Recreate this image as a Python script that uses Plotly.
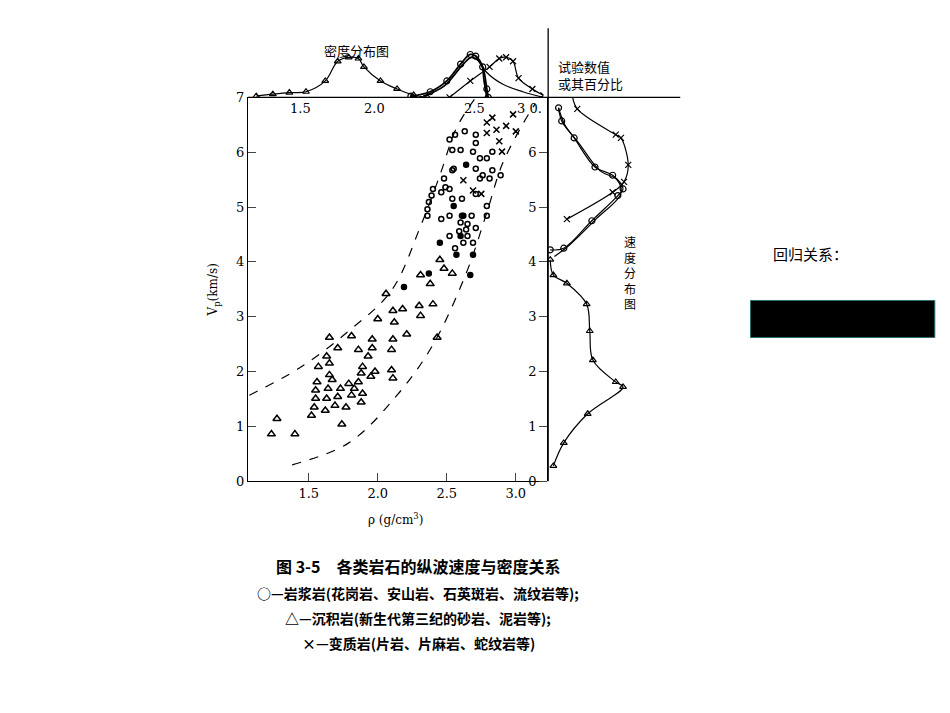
import plotly.graph_objects as go

# 散点数据 (密度 g/cm3, Vp km/s)
tri_x = [1.27, 1.23, 1.40, 1.74, 1.52, 1.54, 1.62, 1.69, 1.77, 1.55, 1.63, 1.71, 1.81, 1.88, 1.89,
         1.55, 1.64, 1.73, 1.83, 1.56, 1.67, 1.79, 1.86, 1.95, 1.65, 1.88, 1.98, 2.11, 2.10, 1.57,
         1.65, 1.89, 1.63, 1.93, 1.71, 1.86, 1.96, 2.10, 1.65, 1.81, 1.96, 2.11, 2.21, 2.43, 2.00,
         2.12, 2.31, 2.11, 2.18, 2.30, 2.40, 2.06, 2.38, 2.31, 2.48, 2.54, 2.45]
tri_y = [1.14, 0.86, 0.86, 1.04, 1.20, 1.35, 1.29, 1.38, 1.35, 1.51, 1.51, 1.54, 1.57, 1.44, 1.60,
         1.66, 1.69, 1.69, 1.69, 1.81, 1.85, 1.78, 1.81, 1.91, 1.94, 1.97, 2.00, 1.88, 2.03, 2.09,
         2.15, 2.09, 2.28, 2.28, 2.43, 2.40, 2.43, 2.40, 2.62, 2.65, 2.59, 2.59, 2.68, 2.62, 2.96,
         2.90, 3.02, 3.11, 3.14, 3.20, 3.23, 3.42, 3.60, 3.76, 3.88, 3.79, 4.04]
dot_x = [2.19, 2.37, 2.67, 2.57, 2.69, 2.45, 2.60, 2.62, 2.55, 2.64]
dot_y = [3.54, 3.79, 3.76, 4.13, 4.13, 4.35, 4.47, 4.84, 5.02, 5.77]
cir_x = [2.56, 2.62, 2.69, 2.52, 2.65, 2.59, 2.64, 2.71, 2.60, 2.65, 2.52, 2.61, 2.68, 2.79, 2.46,
         2.36, 2.36, 2.37, 2.39, 2.40, 2.46, 2.52, 2.54, 2.61, 2.79, 2.71, 2.48, 2.49, 2.55, 2.54,
         2.71, 2.76, 2.81, 2.83, 2.89, 2.74, 2.54, 2.60, 2.69, 2.74, 2.79, 2.71, 2.52, 2.56, 2.63,
         2.71, 2.83]
cir_y = [4.25, 4.35, 4.35, 4.47, 4.47, 4.56, 4.59, 4.62, 4.72, 4.69, 4.84, 4.84, 4.84, 4.84, 4.78,
         4.84, 4.96, 5.09, 5.21, 5.33, 5.27, 5.33, 5.15, 5.15, 5.02, 5.24, 5.52, 5.36, 5.70, 5.67,
         5.70, 5.58, 5.52, 5.67, 5.58, 5.52, 6.04, 6.04, 6.01, 5.89, 5.89, 6.17, 6.23, 6.32, 6.38,
         6.32, 6.01]
crs_x = [2.79, 2.86, 2.93, 2.98, 2.79, 2.88, 2.75, 2.69, 2.62, 2.90, 3.00, 2.83]
crs_y = [6.35, 6.41, 6.48, 6.69, 6.54, 6.20, 5.24, 5.30, 5.49, 6.01, 6.38, 6.63]

# 包络虚线
up_x = [1.07, 1.43, 1.79, 2.10, 2.31, 2.45, 2.57, 2.71]
up_y = [1.57, 2.06, 2.74, 3.48, 4.65, 5.58, 6.44, 7.0]
lo_x = [1.38, 1.79, 2.14, 2.40, 2.64, 2.79, 2.90, 3.05, 3.14]
lo_y = [0.30, 0.70, 1.57, 2.49, 3.79, 4.90, 5.77, 6.51, 6.88]

# 密度分布图
dtri_x = [1.12, 1.24, 1.36, 1.48, 1.62, 1.71, 1.79, 1.86, 1.90, 2.02, 2.14, 2.26, 2.36]
dtri_y = [0.03, 0.08, 0.12, 0.14, 0.41, 0.90, 1.00, 0.97, 0.76, 0.41, 0.21, 0.06, 0.0]
dcir_x = [2.24, 2.38, 2.50, 2.60, 2.67, 2.71, 2.76, 2.79, 2.80]
dcir_y = [0.03, 0.14, 0.41, 0.83, 1.07, 1.03, 0.76, 0.21, 0.0]
ddot_x = [2.33, 2.48, 2.62, 2.68, 2.75, 2.77, 2.79]
ddot_y = [0.03, 0.28, 0.83, 1.00, 0.83, 0.41, 0.0]
dtail_x = [2.71, 2.79, 2.90, 3.05, 3.20]
dtail_y = [1.03, 0.62, 0.34, 0.14, 0.0]
dcrs_x = [2.52, 2.67, 2.81, 2.88, 2.93, 2.98, 3.02, 3.12, 3.20]
dcrs_y = [0.0, 0.41, 0.76, 0.97, 1.00, 0.90, 0.48, 0.21, 0.05]
top_labels = ["1.5", "2.0", "2.5", "3 0."]
top_label_x = [1.44, 1.98, 2.70, 3.10]

# 速度分布图 (百分比, Vp)
vtri_u = [5, 15, 38, 72, 65, 43, 40, 37, 18, 5, 2]
vtri_y = [0.28, 0.70, 1.23, 1.72, 1.81, 2.21, 2.74, 3.23, 3.61, 3.76, 4.04]
vcir_u = [2, 15, 42, 67, 72, 62, 45, 25, 13, 10]
vcir_y = [4.22, 4.25, 4.75, 5.21, 5.33, 5.58, 5.73, 6.26, 6.57, 6.81]
vcir2_u = [6, 20, 46, 70, 66, 50, 30, 16, 10]
vcir2_y = [4.10, 4.30, 4.78, 5.25, 5.50, 5.66, 6.15, 6.50, 6.81]
vcrs_u = [18, 62, 73, 77, 70, 65, 28, 23]
vcrs_y = [4.78, 5.27, 5.46, 5.77, 6.26, 6.32, 6.79, 7.06]

captions = ["图 3-5　各类岩石的纵波速度与密度关系",
            "○—岩浆岩(花岗岩、安山岩、石英斑岩、流纹岩等);",
            "△—沉积岩(新生代第三纪的砂岩、泥岩等);",
            "×—变质岩(片岩、片麻岩、蛇纹岩等)"]

FONT = "Noto Sans CJK SC"
K = "black"
DX, DY = -0.0084, 0.011  # 页面边距补偿

fig = go.Figure()


def pts(x, y, sym, size, xa="x", ya="y"):
    fig.add_trace(go.Scatter(x=x, y=y, mode="markers", xaxis=xa, yaxis=ya,
                             marker=dict(symbol=sym, size=size, color=K, line=dict(color=K, width=1.5))))


def curve(x, y, xa, ya, dash="solid", sym=None, w=1.2):
    fig.add_trace(go.Scatter(x=x, y=y, mode="lines+markers" if sym else "lines", xaxis=xa, yaxis=ya,
                             line=dict(color=K, width=w, dash=dash, shape="spline"),
                             marker=dict(symbol=sym or "circle", size=6, color=K,
                                         line=dict(color=K, width=1.2))))


pts(tri_x, tri_y, "triangle-up-open", 7)
pts(cir_x, cir_y, "circle-open", 5)
pts(dot_x, dot_y, "circle", 5)
pts(crs_x, crs_y, "x-thin-open", 6)
curve(up_x, up_y, "x", "y", dash="dash")
curve(lo_x, lo_y, "x", "y", dash="dash")

curve(dtri_x, dtri_y, "x2", "y2", sym="triangle-up-open")
curve(dcir_x, dcir_y, "x2", "y2", sym="circle-open", w=1.8)
curve(ddot_x, ddot_y, "x2", "y2", w=1.8)
curve(dtail_x, dtail_y, "x2", "y2")
curve(dcrs_x, dcrs_y, "x2", "y2", sym="x-thin-open")

curve(vtri_u, vtri_y, "x3", "y3", sym="triangle-up-open")
curve(vcir_u, vcir_y, "x3", "y3", sym="circle-open")
curve(vcir2_u, vcir2_y, "x3", "y3")
curve(vcrs_u, vcrs_y, "x3", "y3", sym="x-thin-open")

xl, xr, xe = 0.261 + DX, 0.572 + DX, 0.716 + DX
yb, yt = 0.321 + DY, 0.871 + DY
axfont = dict(family="DejaVu Serif", size=13, color=K)
fig.update_layout(
    width=950, height=713, margin=dict(l=0, r=0, t=0, b=0),
    plot_bgcolor="white", paper_bgcolor="white", showlegend=False,
    xaxis=dict(domain=[xl, xr], range=[1.06, 3.2], tickvals=[1.5, 2.0, 2.5, 3.0],
               ticktext=["1.5", "2.0", "2.5", "3.0"], ticks="inside", ticklen=8,
               showgrid=False, zeroline=False, showline=True, linecolor=K, tickfont=axfont,
               title=dict(text="ρ (g/cm<sup>3</sup>)",
                          font=dict(family="DejaVu Serif", size=12, color=K))),
    yaxis=dict(domain=[yb, yt], range=[0, 7], dtick=1, ticks="inside", ticklen=8,
               showgrid=False, zeroline=False, showline=True, linecolor=K, tickfont=axfont,
               title=dict(text="V<sub>p</sub>(km/s)",
                          font=dict(family="DejaVu Serif", size=12, color=K))),
    xaxis2=dict(domain=[xl, xr], range=[1.06, 3.2], anchor="y2", showticklabels=False,
                showgrid=False, zeroline=False, ticks=""),
    yaxis2=dict(domain=[yt, 0.96 + DY], range=[0, 1.55], anchor="x2", visible=False),
    xaxis3=dict(domain=[xr + 0.005, xe], range=[0, 127], anchor="y3", visible=False),
    yaxis3=dict(domain=[yb, yt], range=[0, 7], anchor="x3", dtick=1, ticks="outside",
                ticklen=8, showgrid=False, zeroline=False, showline=True, linecolor=K,
                side="left", tickfont=axfont, tickvals=[0, 1, 2, 3, 4, 5, 6]),
)

for t, x in zip(top_labels, top_label_x):
    fig.add_annotation(text=t, x=x, y=0, xref="x2", yref="y2", yanchor="top", yshift=-2,
                       showarrow=False, font=axfont)

# 分隔线
fig.add_shape(type="line", xref="paper", yref="paper", x0=xl, x1=xe, y0=yt, y1=yt,
              line=dict(color=K, width=1.3))
fig.add_shape(type="line", xref="paper", yref="paper", x0=xr + 0.005, x1=xr + 0.005,
              y0=yb, y1=0.97 + DY, line=dict(color=K, width=1.3))
fig.add_shape(type="rect", xref="paper", yref="paper", x0=0.79 + DX, x1=0.984 + DX,
              y0=0.527 + DY, y1=0.58 + DY, fillcolor="black", line=dict(color="#2a6f6f", width=1))

cj = dict(family=FONT, color=K)
fig.add_annotation(text="密度分布图", x=0.375 + DX, y=0.955 + DY, xref="paper", yref="paper",
                   showarrow=False, font=dict(cj, size=13))
fig.add_annotation(text="试验数值<br>或其百分比", x=0.585 + DX, y=0.875 + DY, xref="paper",
                   yref="paper", xanchor="left", yanchor="bottom", showarrow=False,
                   align="left", font=dict(cj, size=13))
fig.add_annotation(text="速<br>度<br>分<br>布<br>图", x=0.663 + DX, y=0.62 + DY, xref="paper",
                   yref="paper", showarrow=False, font=dict(cj, size=12))
fig.add_annotation(text="回归关系：", x=0.895 + DX, y=0.648 + DY, xref="paper", yref="paper",
                   showarrow=False, font=dict(cj, size=15))
for i, c in enumerate(captions):
    fig.add_annotation(text=f"<b>{c}</b>", x=0.44 + DX, y=0.18 - i * 0.036 + DY,
                       xref="paper", yref="paper", showarrow=False,
                       font=dict(cj, size=16 if i == 0 else 14))

fig.write_html("out.html")
